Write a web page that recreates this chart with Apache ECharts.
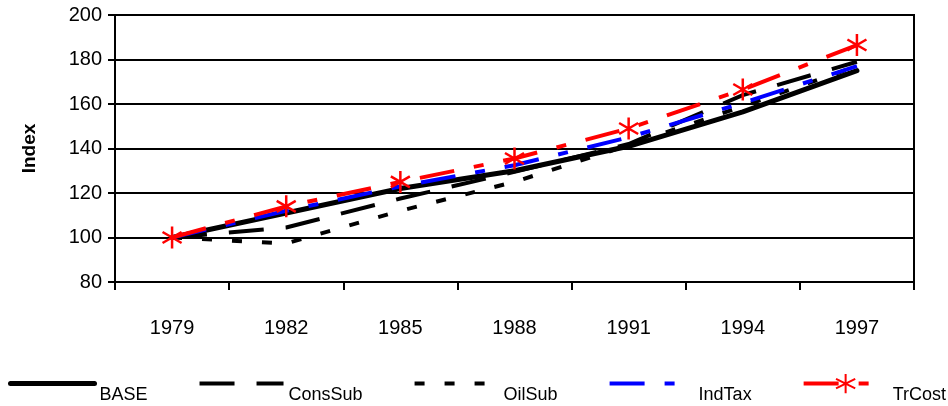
<!DOCTYPE html>
<html>
<head>
<meta charset="utf-8">
<script src="https://cdn.jsdelivr.net/npm/echarts@6/dist/echarts.min.js"></script>
<style>
html,body{margin:0;padding:0;background:#fff;}
#chart{width:948px;height:406px;}
</style>
</head>
<body>
<div id="chart"></div>
<script>
var years = ['1979','1982','1985','1988','1991','1994','1997'];
var yTicks = [80, 100, 120, 140, 160, 180, 200];
var seriesNames = ['BASE', 'ConsSub', 'OilSub', 'IndTax', 'TrCost'];
var base    = [100, 111, 122, 130, 141, 156.5, 175];
var consSub = [100, 104.5, 117.5, 129.5, 142, 164, 179];
var oilSub  = [100, 97.3, 112, 125, 141.5, 159, 177];
var indTax  = [100, 112, 123, 132.5, 145, 160.5, 177];
var trCost  = [100, 114, 125, 135.5, 149, 166.5, 186.5];

var FONT = '"Liberation Sans", Arial, sans-serif';
var star = 'path://M10,0L10,20M1.34,5L18.66,15M1.34,15L18.66,5';

var legendWidths = {BASE: 5, ConsSub: 4, OilSub: 4, IndTax: 4, TrCost: 4};
var legendData = seriesNames.map(function (n) {
  var item = {name: n, lineStyle: {width: legendWidths[n]}};
  if (n !== 'TrCost') item.itemStyle = {opacity: 0};
  return item;
});

var chart = echarts.init(document.getElementById('chart'), null, {renderer:'canvas'});
chart.setOption({
  animation: false,
  backgroundColor: '#ffffff',
  textStyle: {fontFamily: FONT, color: '#000'},
  grid: {left: 115, right: 34, top: 15, bottom: 124, show: true, borderColor: '#000', borderWidth: 2, backgroundColor: 'transparent'},
  xAxis: {
    type: 'category',
    data: years,
    boundaryGap: true,
    axisLine: {lineStyle: {color: '#000', width: 2}},
    axisTick: {show: true, length: 8, lineStyle: {color: '#000', width: 2}},
    axisLabel: {color: '#000', fontSize: 20, fontFamily: FONT, margin: 36},
    splitLine: {show: false}
  },
  yAxis: {
    type: 'value',
    min: yTicks[0], max: yTicks[yTicks.length-1], interval: 20,
    name: 'Index',
    nameLocation: 'middle',
    nameRotate: 90,
    nameGap: 76,
    nameTextStyle: {fontSize: 19, fontWeight: 'bold', color: '#000', fontFamily: FONT},
    axisLine: {show: true, lineStyle: {color: '#000', width: 2}},
    axisTick: {show: true, length: 7, lineStyle: {color: '#000', width: 2}},
    axisLabel: {color: '#000', fontSize: 20, fontFamily: FONT, margin: 13},
    splitLine: {show: true, lineStyle: {color: '#000', width: 2}}
  },
  legend: {
    left: 8, top: 373, padding: 0, width: 1400,
    itemWidth: 84, itemHeight: 24, itemGap: 50,
    formatter: '{t|{name}}',
    textStyle: {fontSize: 18, color: '#000', fontFamily: FONT,
      rich: {t: {fontSize: 18, fontFamily: FONT, color: '#000', padding: [22, 0, 0, 0]}}},
    data: legendData
  },
  series: [
    {name: 'BASE', type: 'line', data: base, symbol: 'none',
     lineStyle: {color: '#000', width: 5, type: 'solid', cap: 'round'}, itemStyle: {color: '#000'}},
    {name: 'ConsSub', type: 'line', data: consSub, symbol: 'none',
     lineStyle: {color: '#000', width: 4, type: [35, 22]}, itemStyle: {color: '#000'}},
    {name: 'OilSub', type: 'line', data: oilSub, symbol: 'none',
     lineStyle: {color: '#000', width: 4, type: [10, 20]}, itemStyle: {color: '#000'}},
    {name: 'IndTax', type: 'line', data: indTax, symbol: 'none',
     lineStyle: {color: '#0000FF', width: 4, type: [35, 20, 10, 20]}, itemStyle: {color: '#0000FF'}},
    {name: 'TrCost', type: 'line', data: trCost, symbol: star, symbolSize: 22, symbolKeepAspect: true,
     showAllSymbol: true,
     lineStyle: {color: '#FF0000', width: 4, type: [35, 20, 10, 20]},
     itemStyle: {color: 'transparent', borderColor: '#FF0000', borderWidth: 2.5}}
  ]
});
</script>
</body>
</html>
